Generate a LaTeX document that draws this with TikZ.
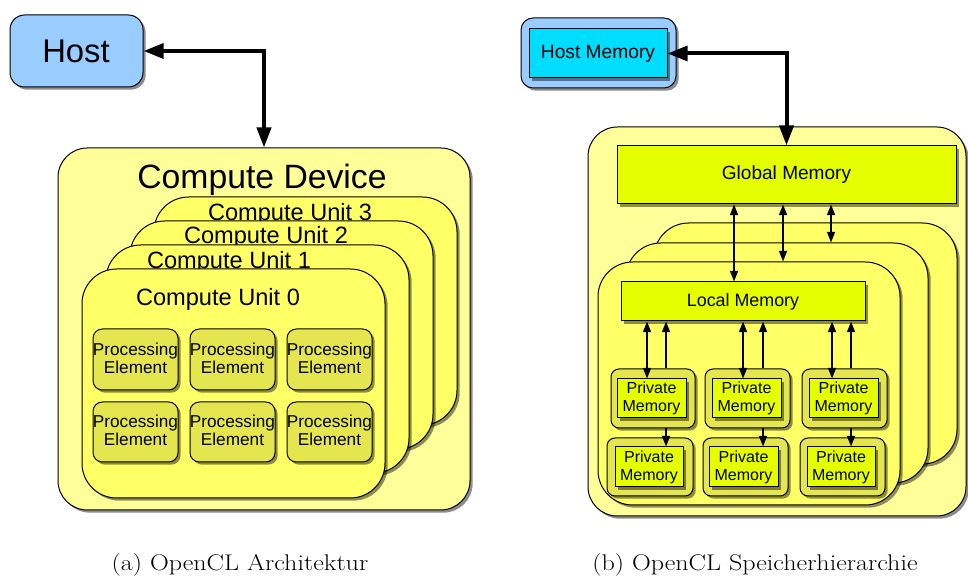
\documentclass[tikz,border=0pt]{standalone}
\usepackage{fontspec}
\newfontfamily\arialf{Liberation Sans}
\newfontfamily\capf{Latin Modern Roman}
\usetikzlibrary{arrows.meta,fit,shadows}
\definecolor{hostblue}{HTML}{99CCFF}
\definecolor{devyellow}{HTML}{FFFF99}
\definecolor{cuyellow}{HTML}{FFFF66}
\definecolor{peyellow}{HTML}{E5E550}
\definecolor{memgreen}{HTML}{E5FF00}
\definecolor{hmcyan}{HTML}{00DDFF}
\tikzset{
  shad/.style={drop shadow={shadow xshift=2pt,shadow yshift=-2pt,fill=black,opacity=0.45}},
  bx/.style={draw=black,line width=0.75pt,inner sep=0pt,shad},
  hostbox/.style={bx,fill=hostblue,rounded corners=11pt},
  devbox/.style={bx,fill=devyellow,rounded corners=22pt},
  cubox/.style={bx,fill=cuyellow,rounded corners=26pt},
  pebox/.style={bx,fill=peyellow,rounded corners=7pt},
  membox/.style={bx,fill=memgreen},
  privout/.style={bx,fill=peyellow,rounded corners=6pt},
  privin/.style={bx,fill=memgreen},
  petext/.style={inner sep=0pt,align=center,font=\arialf\fontsize{12.9}{13.5}\selectfont},
  pmtext/.style={inner sep=0pt,align=center,font=\arialf\fontsize{12}{13.5}\selectfont},
  memtext/.style={inner sep=0pt,font=\arialf\fontsize{14.3}{16}\selectfont},
  bigarrow/.style={line width=3pt,{Triangle[length=15pt,width=11pt]}-{Triangle[length=15pt,width=10.5pt]}},
  thinarrow/.style={line width=1.1pt,{Triangle[length=8pt,width=6pt]}-{Triangle[length=8pt,width=6pt]}},
  uparrow/.style={line width=1.1pt,-{Triangle[length=8pt,width=6pt]}},
  cutext/.style={font=\arialf\fontsize{17.7}{20}\selectfont,anchor=base},
  captext/.style={font=\capf\fontsize{17}{20}\selectfont,anchor=base}
}
\begin{document}
\begin{tikzpicture}[x=0.75pt,y=-0.75pt]
\useasboundingbox (0,0) rectangle (968,580);

% ---------------- left: architecture ----------------
\node[hostbox,fit={(10,15)(143,87)}] (host) {};
\node[font=\arialf\fontsize{24.6}{28}\selectfont,anchor=base] (hostt) at (76,63) {Host};

\node[devbox,fit={(58,148)(470,510)}] (dev) {};
\node[font=\arialf\fontsize{25.3}{28}\selectfont,anchor=base] (devt) at (262,189) {Compute Device};

\node[cubox,fit={(154,197)(457,425)}] (cu3) {};
\node[cutext] (cu3t) at (290,221) {Compute Unit 3};
\node[cubox,fit={(130,221)(433,449)}] (cu2) {};
\node[cutext] (cu2t) at (266,244) {Compute Unit 2};
\node[cubox,fit={(106,245)(409,473)}] (cu1) {};
\node[cutext] (cu1t) at (229,269) {Compute Unit 1};
\node[cubox,fit={(82,269)(385,498)}] (cu0) {};
\node[cutext] (cu0t) at (218,306) {Compute Unit 0};

\node[pebox,fit={(93,329)(178,390)}] (pe1) {};
\node[pebox,fit={(190,329)(275,390)}] (pe2) {};
\node[pebox,fit={(287,329)(372,390)}] (pe3) {};
\node[pebox,fit={(93,402)(178,462)}] (pe4) {};
\node[pebox,fit={(190,402)(275,462)}] (pe5) {};
\node[pebox,fit={(287,402)(372,462)}] (pe6) {};
\foreach \p in {pe1,pe2,pe3,pe4,pe5,pe6}
  \node[petext] (\p t) at ([yshift=1pt]\p.center) {Processing\\Element};

\draw[bigarrow] (host.east) -| (dev.north);

% ---------------- right: memory hierarchy ----------------
\node[hostbox,rounded corners=9pt,fit={(521,18)(676,88)}] (hmo) {};
\node[bx,fill=hmcyan,fit={(529,29)(667,78)}] (hmi) {};
\node[memtext,font=\arialf\fontsize{14.4}{16}\selectfont] (hmit) at (hmi.center) {Host Memory};

\node[devbox,fit={(588,127)(966,516)}] (rdev) {};
\node[membox,fit={(617,146)(956,204)}] (gm) {};
\node[memtext] (gmt) at (gm.center) {Global Memory};

\node[cubox,fit={(654,223)(957,464)}] (wg3) {};
\node[cubox,fit={(626,243)(928,483)}] (wg2) {};
\node[cubox,fit={(598,262)(900,505)}] (wg1) {};

\node[membox,fit={(621,282)(865,321)}] (lm) {};
\node[memtext,font=\arialf\fontsize{13.4}{16}\selectfont] (lmt) at (lm.center) {Local Memory};

\node[privout,fit={(611,369)(695,428)}] (po1) {};
\node[privout,fit={(705,369)(790,428)}] (po2) {};
\node[privout,fit={(802,369)(887,428)}] (po3) {};
\node[privin,fit={(617,379)(686,418)}] (pi1) {};
\node[privin,fit={(712,379)(781,418)}] (pi2) {};
\node[privin,fit={(809,379)(878,418)}] (pi3) {};

\node[privout,fit={(607,438)(693,496)}] (pq1) {};
\node[privout,fit={(703,438)(788,496)}] (pq2) {};
\node[privout,fit={(800,438)(885,496)}] (pq3) {};
\node[privin,fit={(615,447)(683,487)}] (pj1) {};
\node[privin,fit={(709,447)(778,487)}] (pj2) {};
\node[privin,fit={(807,447)(875,487)}] (pj3) {};
\foreach \p in {pi1,pi2,pi3,pj1,pj2,pj3}
  \node[pmtext] (\p t) at (\p.center) {Private\\Memory};

\draw[bigarrow] (hmi.east) -| (gm.north);

\draw[thinarrow] (734,0 |- gm.south) -- (734,0 |- lm.north);
\draw[thinarrow] (783,0 |- gm.south) -- (783,0 |- wg1.north);
\draw[thinarrow] (831,0 |- gm.south) -- (831,0 |- wg2.north);

\draw[thinarrow] (647,0 |- lm.south) -- (647,0 |- pi1.north);
\draw[uparrow] (666,0 |- po1.north) -- (666,0 |- lm.south);
\draw[thinarrow] (743,0 |- lm.south) -- (743,0 |- pi2.north);
\draw[uparrow] (763,0 |- po2.north) -- (763,0 |- lm.south);
\draw[thinarrow] (832,0 |- lm.south) -- (832,0 |- pi3.north);
\draw[uparrow] (851,0 |- po3.north) -- (851,0 |- lm.south);

\draw[uparrow] (666,0 |- po1.south) -- (666,0 |- pj1.north);
\draw[uparrow] (763,0 |- po2.south) -- (763,0 |- pj2.north);
\draw[uparrow] (851,0 |- po3.south) -- (851,0 |- pj3.north);

% ---------------- captions ----------------
\node[captext] (capa) at (240,571) {\scalebox{1.15}[1]{(a) OpenCL Architektur}};
\node[captext] (capb) at (755,571) {\scalebox{1.15}[1]{(b) OpenCL Speicherhierarchie}};
\end{tikzpicture}
\end{document}
